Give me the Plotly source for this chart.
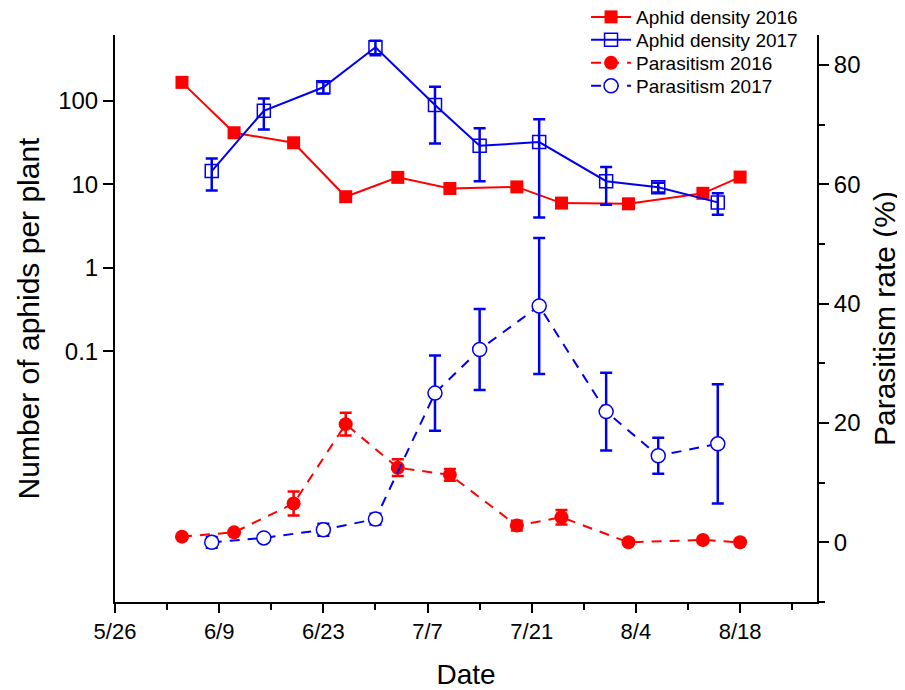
import plotly.graph_objects as go

# ---- data ----
dates_2016 = ["6/4", "6/11", "6/19", "6/26", "7/3", "7/10", "7/19", "7/25", "8/3", "8/13", "8/18"]
dates_2017 = ["6/8", "6/15", "6/23", "6/30", "7/8", "7/14", "7/22", "7/31", "8/7", "8/15"]

density_2016 = [166, 41.4, 31.4, 7.1, 12.1, 8.9, 9.3, 5.96, 5.84, 7.8, 12.2]
density_2017 = [14.4, 75.9, 145, 436, 88.8, 28.9, 32.0, 10.9, 9.2, 6.07]
density_2017_err = [6.0, 30.5, 23, 85, 58, 18, 28, 5.2, 1.2, 1.75]

parasitism_2016 = [0.95, 1.67, 6.5, 19.8, 12.5, 11.3, 2.8, 4.2, 0.0, 0.4, 0.0]
parasitism_2016_err = [0, 0, 2.0, 1.9, 1.4, 1.0, 0.8, 1.2, 0, 0, 0]
parasitism_2017 = [0.0, 0.74, 2.1, 3.9, 25.0, 32.3, 39.6, 21.9, 14.5, 16.5]
parasitism_2017_err = [0.9, 0.5, 1.0, 0.9, 6.3, 6.8, 11.4, 6.5, 3.0, 10.0]

left_ticks = [0.1, 1, 10, 100]
left_tick_text = ["0.1", "1", "10", "100"]
right_ticks = [0, 20, 40, 60, 80]


def to_date(md):
    m, d = md.split("/")
    return "2016-%02d-%02d" % (int(m), int(d))


x16 = [to_date(d) for d in dates_2016]
x17 = [to_date(d) for d in dates_2017]

RED = "#ff0000"
BLUE = "#0000ee"
FONT = "Liberation Sans, Arial, sans-serif"

fig = go.Figure()

fig.add_trace(go.Scatter(
    x=x16, y=density_2016, name="Aphid density 2016", mode="lines+markers",
    line=dict(color=RED, width=2),
    marker=dict(symbol="square", size=13, color=RED),
    legend="legend",
))
fig.add_trace(go.Scatter(
    x=x17, y=density_2017, name="Aphid density 2017", mode="lines+markers",
    line=dict(color=BLUE, width=2),
    marker=dict(symbol="square-open", size=13, color=BLUE, line=dict(width=1.5)),
    error_y=dict(type="data", array=density_2017_err, color=BLUE, thickness=2.5, width=6),
    legend="legend2",
))
fig.add_trace(go.Scatter(
    x=x16, y=parasitism_2016, name="Parasitism 2016", mode="lines+markers", yaxis="y2",
    line=dict(color=RED, width=2, dash="10px,8px"),
    marker=dict(symbol="circle", size=14, color=RED),
    error_y=dict(type="data", array=parasitism_2016_err, color=RED, thickness=2.5, width=6),
    legend="legend3",
))
fig.add_trace(go.Scatter(
    x=x17, y=parasitism_2017, name="Parasitism 2017", mode="lines+markers", yaxis="y2",
    line=dict(color=BLUE, width=2, dash="10px,8px"),
    marker=dict(symbol="circle", size=14, color="white", line=dict(color=BLUE, width=1.5)),
    error_y=dict(type="data", array=parasitism_2017_err, color=BLUE, thickness=2.5, width=6),
    legend="legend4",
))


def leg(y):
    return dict(x=0.671, y=y, xanchor="left", yanchor="middle",
                bgcolor="rgba(0,0,0,0)", font=dict(size=19, family=FONT),
                itemwidth=40)


fig.update_layout(
    width=905, height=690,
    margin=dict(l=107, r=96, t=27, b=96, autoexpand=False),
    paper_bgcolor="white", plot_bgcolor="white",
    font=dict(family=FONT, color="black"),
    showlegend=True,
    legend=leg(1.0317),
    legend2=leg(0.9912),
    legend3=leg(0.9506),
    legend4=leg(0.9101),
    xaxis=dict(
        type="date",
        range=["2016-05-26", "2016-08-28 08:00"],
        tick0="2016-05-26", dtick=14 * 86400000, tickformat="%-m/%-d",
        ticks="outside", ticklen=9, tickwidth=2, tickcolor="black",
        showline=True, linewidth=2, linecolor="black",
        showgrid=False, zeroline=False,
        tickfont=dict(size=22),
        title=dict(text="Date", font=dict(size=28), standoff=21),
        minor=dict(dtick=7 * 86400000, tick0="2016-05-26", ticks="outside",
                   ticklen=6, tickwidth=2, tickcolor="black", showgrid=False),
    ),
    yaxis=dict(
        type="log", range=[-4.0, 2.787],
        tickvals=left_ticks, ticktext=left_tick_text,
        ticks="outside", ticklen=10, tickwidth=2, tickcolor="black",
        showline=True, linewidth=2, linecolor="black",
        showgrid=False, zeroline=False,
        tickfont=dict(size=24),
        title=dict(text="Number of aphids per plant", font=dict(size=30), standoff=10),
    ),
    yaxis2=dict(
        overlaying="y", side="right", range=[-10, 85],
        tickvals=right_ticks,
        ticks="outside", ticklen=10, tickwidth=2, tickcolor="black",
        showline=True, linewidth=2, linecolor="black",
        showgrid=False, zeroline=False,
        tickfont=dict(size=24),
        title=dict(text="Parasitism rate (%)", font=dict(size=30), standoff=14),
        minor=dict(dtick=10, tick0=0, ticks="outside", ticklen=6, tickwidth=2,
                   tickcolor="black", showgrid=False),
    ),
)

fig.write_html("out.html")
